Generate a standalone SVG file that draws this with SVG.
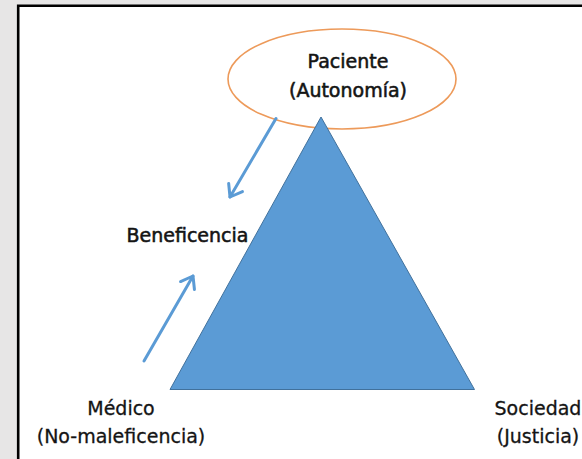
<svg xmlns="http://www.w3.org/2000/svg" width="582" height="459" viewBox="0 0 582 459">
  <defs>
    <style>
      .lbl { font-family: "DejaVu Sans", "Liberation Sans", sans-serif; font-size: 19px; fill: #141414; text-anchor: middle; stroke: #141414; stroke-width: 0.3px; }
      .heavy { stroke-width: 0.55px; }
      .arrow { stroke: #5b9bd5; stroke-width: 3; fill: none; stroke-linecap: round; }
    </style>
    <marker id="chevron" markerUnits="userSpaceOnUse" markerWidth="24" markerHeight="24" viewBox="-14 -12 20 24" refX="0" refY="0" orient="auto">
      <path d="M -11 -8 L 0 0 L -11 8" fill="none" stroke="#5b9bd5" stroke-width="3" stroke-linecap="round" stroke-linejoin="round"/>
    </marker>
  </defs>

  <!-- page background and framed canvas -->
  <rect x="0" y="0" width="582" height="459" fill="#e7e6e6"/>
  <rect x="17" y="5" width="570" height="460" fill="#ffffff"/>
  <path d="M 18.2 459 L 18.2 5.8 L 582 5.8" fill="none" stroke="#000000" stroke-width="2.6"/>

  <!-- top node (ellipse sits behind the triangle apex) -->
  <g id="paciente">
    <ellipse cx="342" cy="79" rx="114" ry="50" fill="none" stroke="#ed9a5a" stroke-width="1.6"/>
    <text class="lbl heavy" x="348" y="68">Paciente</text>
    <text class="lbl heavy" x="348" y="97">(Autonomía)</text>
  </g>

  <!-- central triangle -->
  <g id="triangle">
    <polygon points="321,117 474.5,389.5 170,389.5" fill="#5b9bd5" stroke="#41719c" stroke-width="1"/>
  </g>

  <g id="beneficencia">
    <text class="lbl heavy" x="187.5" y="242">Beneficencia</text>
  </g>

  <g id="medico">
    <text class="lbl" x="121" y="415">Médico</text>
    <text class="lbl" x="121" y="443">(No-maleficencia)</text>
  </g>

  <g id="sociedad">
    <text class="lbl" x="538" y="415">Sociedad</text>
    <text class="lbl" x="538" y="443">(Justicia)</text>
  </g>

  <!-- connectors -->
  <g id="connectors">
    <line class="arrow" x1="276" y1="118.5" x2="230" y2="197" marker-end="url(#chevron)"/>
    <line class="arrow" x1="144" y1="361" x2="193" y2="276" marker-end="url(#chevron)"/>
  </g>
</svg>
